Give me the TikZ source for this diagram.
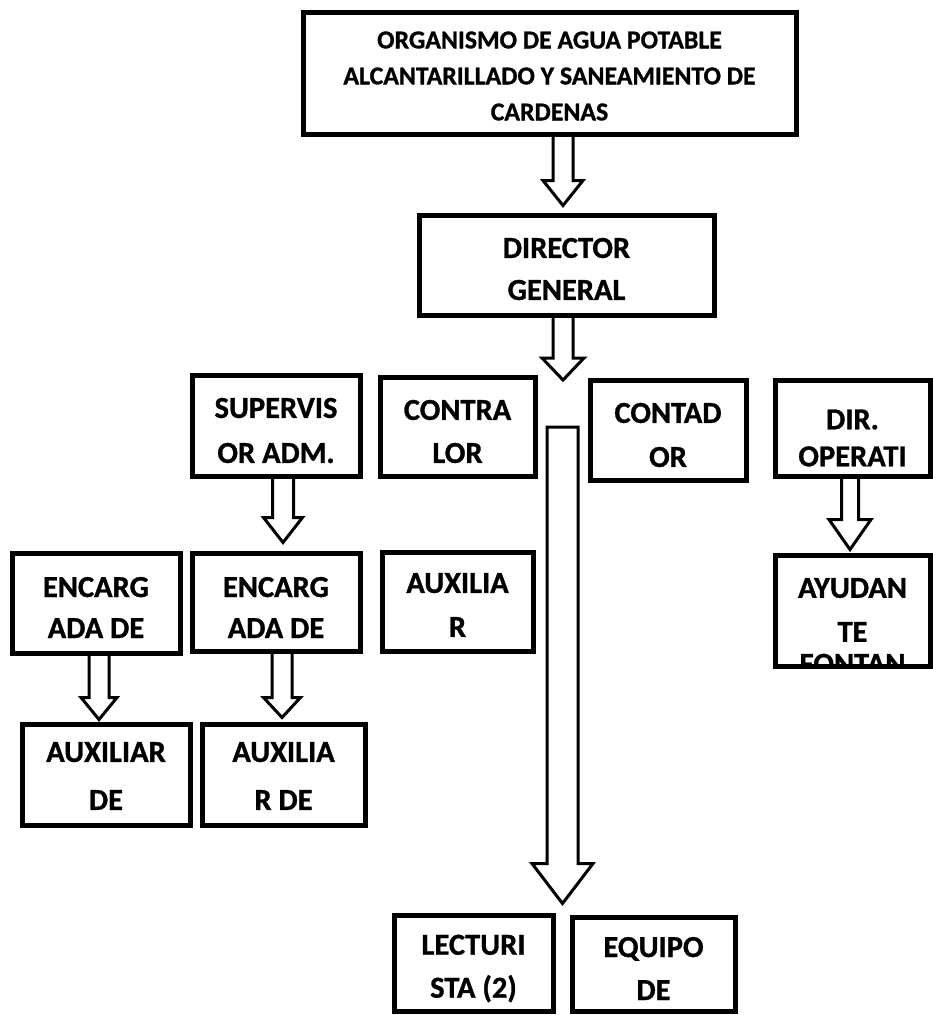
\documentclass[tikz,border=0pt]{standalone}
\usepackage{fontspec}
\setmainfont{Carlito}[BoldFeatures={FakeBold=1}]
\usetikzlibrary{calc}
\newcommand\lblfont{\fontsize{30.5}{44}\selectfont\bfseries}
\newcommand\topfont{\fontsize{25.8}{36}\selectfont\bfseries}
\newcommand\blockarrow[5]{%
  \draw[arrowline] let \p1=(#1), \p2=(#2) in
    (\x2-#3,\y1) -- (\x2-#3,\y2+#5) -- (\x2-#4,\y2+#5) -- (\x2,\y2)
    -- (\x2+#4,\y2+#5) -- (\x2+#3,\y2+#5) -- (\x2+#3,\y1);}
\tikzset{
  box/.style={draw=black, line width=5pt, rectangle, inner sep=0pt},
  arrowline/.style={draw=black, line width=3pt, line join=miter},
  lbl/.style={font=\lblfont, align=center, inner sep=0pt, text=black},
  toplbl/.style={font=\topfont, align=center, inner sep=0pt, text=black},
  txt/.style n args={3}{path picture={\node[lbl] (#1) at ([yshift=#2]path picture bounding box.center) {#3};}},
  ttxt/.style n args={3}{path picture={\node[toplbl] (#1) at ([yshift=#2]path picture bounding box.center) {#3};}},
}
\begin{document}
\begin{tikzpicture}[x=1pt,y=-1pt]
\useasboundingbox (0,0) rectangle (933,1015);
% boxes
\node[box, minimum width=493pt, minimum height=122pt,
  ttxt={topT}{-3pt}{ORGANISMO DE AGUA POTABLE\\ALCANTARILLADO Y SANEAMIENTO DE\\CARDENAS}] (top) at (549.5,73) {};
\node[box, minimum width=295pt, minimum height=100pt,
  txt={dirT}{-4pt}{DIRECTOR\\[-2pt]GENERAL}] (dir) at (566.5,265) {};
\node[box, minimum width=168pt, minimum height=101pt,
  txt={supT}{-5pt}{SUPERVIS\\[1pt]OR ADM.}] (sup) at (276,425.5) {};
\node[box, minimum width=155pt, minimum height=99pt,
  txt={contraT}{-5pt}{CONTRA\\[-1pt]LOR}] (contra) at (457.5,426.5) {};
\node[box, minimum width=156pt, minimum height=100pt,
  txt={contadT}{-5pt}{CONTAD\\OR}] (contad) at (668,430) {};
\node[box, minimum width=155pt, minimum height=96pt,
  txt={diropT}{-10pt}{DIR.\\[-7pt]OPERATI}] (dirop) at (852.5,428) {};
\node[box, minimum width=168pt, minimum height=100pt,
  txt={enclT}{-4.5pt}{ENCARG\\[-3pt]ADA DE}] (encl) at (96,603) {};
\node[box, minimum width=168pt, minimum height=98pt,
  txt={encmT}{-5.5pt}{ENCARG\\[-3pt]ADA DE}] (encm) at (276,602) {};
\node[box, minimum width=151pt, minimum height=99pt,
  txt={auxrT}{-3.5pt}{AUXILIA\\R}] (auxr) at (457.5,601.5) {};
\node[box, minimum width=155pt, minimum height=111pt,
  txt={ayudT}{-15.5pt}{AYUDAN\\TE\\[-12pt]FONTAN}] (ayud) at (852.5,610.5) {};
\node[box, minimum width=168pt, minimum height=101pt,
  txt={auxlT}{-1.5pt}{AUXILIAR\\[4pt]DE}] (auxl) at (106,774.5) {};
\node[box, minimum width=163pt, minimum height=101pt,
  txt={auxmT}{-1.5pt}{AUXILIA\\[4pt]R DE}] (auxm) at (283.5,774.5) {};
\node[box, minimum width=159pt, minimum height=96pt,
  txt={lectT}{-5.5pt}{LECTURI\\[-1pt]STA (2)}] (lect) at (473.5,963) {};
\node[box, minimum width=163pt, minimum height=94pt,
  txt={equipT}{-4.5pt}{EQUIPO\\[-1pt]DE}] (equip) at (653.5,964) {};
% arrows
\coordinate (split) at (563,380);
\blockarrow{top.south}{[xshift=-3.5pt,yshift=7pt]dir.north}{10pt}{20pt}{25pt}
\blockarrow{dir.south}{split}{10pt}{21pt}{22pt}
\blockarrow{sup.south}{[xshift=7pt,yshift=8pt]encm.north}{10.5pt}{19.5pt}{25pt}
\blockarrow{encl.south}{[xshift=-7pt,yshift=2pt]auxl.north}{10pt}{18pt}{22pt}
\blockarrow{encm.south}{[xshift=-1.5pt,yshift=4pt]auxm.north}{10pt}{18.5pt}{20pt}
\blockarrow{dirop.south}{[xshift=-2.5pt,yshift=3pt]ayud.north}{8.5pt}{21pt}{30pt}
\coordinate (bigtop) at (563,427);
\coordinate (bigtip) at ($(lect.north east)!0.5!(equip.north west)+(0,-10)$);
\draw[arrowline] let \p1=(bigtop), \p2=(bigtip) in
  (\x2-15.5pt,\y1) -- (\x2-15.5pt,\y2+40pt) -- (\x2-30.5pt,\y2+40pt) -- (\x2,\y2)
  -- (\x2+30.5pt,\y2+40pt) -- (\x2+15.5pt,\y2+40pt) -- (\x2+15.5pt,\y1) -- cycle;
\end{tikzpicture}
\end{document}
